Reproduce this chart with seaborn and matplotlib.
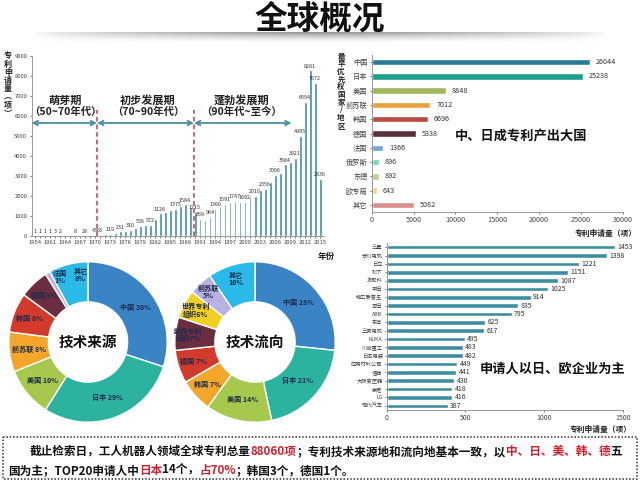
import matplotlib
matplotlib.use("Agg")
import matplotlib.pyplot as plt
import seaborn as sns
import numpy as np
import pandas as pd
from matplotlib.patches import Rectangle

# ---------------- data ----------------
years = ["1954"] + [str(y) for y in range(1959, 2016)]
counts = [1, 1, 1, 1, 3, 2, 0, 0, 8, 0,
          28, 0, 45, 63, 80, 119, 150, 231, 260, 310,
          420, 506, 560, 572, 870, 1126, 1180, 1300, 1375, 1500,
          1584, 1400, 1215, 869, 820, 964, 1360, 1450, 1591, 1680,
          1747, 1720, 1692, 1980, 2010, 2300, 2356, 2700, 3066, 3150,
          3584, 3700, 3921, 4995, 6694, 8281, 7672, 2836]
labeled_years = ["1954", "1959", "1960", "1961", "1962", "1963", "1966", "1968",
                 "1970", "1971", "1973", "1975", "1977", "1979", "1981", "1983",
                 "1986", "1988", "1990", "1991", "1993", "1994", "1996", "1998",
                 "2000", "2002", "2004", "2006", "2008", "2010", "2011", "2012",
                 "2013", "2014", "2015"]
periods = ["萌芽期", "初步发展期", "蓬勃发展期"]
period_ranges = ["（50~70年代）", "（70~90年代）", "（90年代~至今）"]

countries = ["中国", "日本", "美国", "前苏联", "韩国", "德国", "法国", "俄罗斯", "东德", "欧专局", "其它"]
country_counts = [26044, 25238, 8848, 7012, 6696, 5338, 1366, 896, 892, 643, 5082]
country_colors = ["#2b7a99", "#1f9e8c", "#a2b85c", "#e9a23b", "#b94a45", "#5e2e3a",
                  "#6fa8d6", "#7fd3bb", "#c9cc9e", "#efd39a", "#d98f8c"]

applicants = ["三星", "安川电机", "日立", "松下", "发那科", "丰田", "精工爱普生", "本田", "ABB", "东芝",
              "三菱电机", "KUKA", "川崎重工", "日本电装", "应用材料公司", "佳能", "大阪变压器", "索尼", "LG", "现代汽车"]
applicant_counts = [1453, 1398, 1221, 1151, 1087, 1025, 914, 835, 795, 625,
                    617, 495, 483, 482, 449, 441, 430, 418, 416, 387]

src_labels = ["中国 30%", "日本 29%", "美国 10%", "前苏联 8%", "韩国 8%", "德国 6%", "法国\n1%", "其它\n8%"]
src_values = [30, 29, 10, 8, 8, 6, 1, 8]
src_colors = ["#3a84c6", "#2bb3a0", "#a6c84c", "#f4a62a", "#d23b2b", "#6b2d40", "#b9b1e2", "#2bb9e8"]
src_label_r = [0.74, 0.74, 0.75, 0.75, 0.8, 0.8, 0.88, 0.84]
src_label_dang = [0, 0, 0, 0, 0, 0, -7, -8]

dst_labels = ["中国 28%", "日本 21%", "美国 14%", "韩国 7%", "德国 7%", "欧洲专利\n组织7%",
              "世界专利\n组织6%", "前苏联\n5%", "其它\n10%"]
dst_values = [28, 21, 14, 7, 7, 7, 6, 5, 10]
dst_colors = ["#3a84c6", "#2bb3a0", "#a6c84c", "#f4a62a", "#d23b2b", "#6b2d40",
              "#f3cf22", "#b9b1e2", "#2bb9e8"]
dst_label_r = [0.73, 0.72, 0.73, 0.8, 0.8, 0.84, 0.84, 0.85, 0.82]
dst_label_dang = [0, 0, 0, 0, 0, 0, 0, 0, 0]

# ---------------- style ----------------
sns.set_theme(style="ticks")
plt.rcParams["font.family"] = ["Noto Sans CJK SC", "DejaVu Sans"]
plt.rcParams["axes.unicode_minus"] = False

fig = plt.figure(figsize=(6.4, 4.83), dpi=100)
W, H = 640, 483


def px_ax(l, t, r, b):
    return fig.add_axes([l / W, 1 - b / H, (r - l) / W, (b - t) / H])


bg = fig.add_axes([0, 0, 1, 1], zorder=-5)
bg.set_xlim(0, W)
bg.set_ylim(H, 0)
bg.axis("off")

# title and grey band
xs = np.linspace(0, 1, 400)
ys = np.linspace(0, 1, 20)
ax_prof = np.clip(1 - np.abs(xs - 0.5) * 2.1, 0, 1) ** 0.6
ay_prof = (1 - ys) ** 1.5
band = np.zeros((20, 400, 4))
band[..., :3] = 0.45
band[..., 3] = np.outer(ay_prof, ax_prof) * 0.8
bg.imshow(band, extent=(20, 620, 43, 32), aspect="auto", zorder=0)
bg.text(320, 19, "全球概况", fontsize=23.5, fontweight="bold", ha="center", va="center",
        color="#111111", zorder=2)


def vertical_text(x, y_top, chars, step, size):
    for k, ch in enumerate(chars):
        bg.text(x, y_top + k * step, ch, ha="center", va="center", fontsize=size,
                fontweight="bold", color="#222222")


bar_c = "#3e8da0"
spine_c = "#9a9a9a"

# ---------------- panel 1: yearly bars ----------------
ax1 = px_ax(31.5, 56, 323.5, 236)
df1 = pd.DataFrame({"year": years, "count": counts})
sns.barplot(data=df1, x="year", y="count", color=bar_c, width=0.6, saturation=1, ax=ax1)
ax1.set_xlim(-0.7, len(years) - 0.3)
ax1.set_ylim(0, 9000)
ax1.set_yticks(range(0, 9001, 1000))
ax1.set_xticks(range(len(years)))
ax1.set_xticklabels([y if i % 3 == 0 else "" for i, y in enumerate(years)])
ax1.tick_params(axis="both", labelsize=4.2, length=1.5, width=0.5, colors="#444444", pad=1.5)
ax1.set_xlabel("")
ax1.set_ylabel("")
for s in ["top", "right"]:
    ax1.spines[s].set_visible(False)
for s in ["left", "bottom"]:
    ax1.spines[s].set_color(spine_c)
    ax1.spines[s].set_linewidth(0.7)
for yr in labeled_years:
    i = years.index(yr)
    ax1.text(i, counts[i] + 90, str(counts[i]), ha="center", va="bottom", fontsize=3.9, color="#333333")

b1 = years.index("1970") + 0.4
b2 = years.index("1990") - 0.2
b3 = years.index("2009") + 0.3
for b in (b1, b2):
    ax1.plot([b, b], [0, 6300], ls=(0, (3, 2)), color="#c23a4e", lw=1.1, zorder=5)
arrow_y = 5650
for x0, x1 in ((-0.7, b1), (b1, b2), (b2, b3)):
    ax1.annotate("", xy=(x0, arrow_y), xytext=(x1, arrow_y),
                 arrowprops=dict(arrowstyle="<->", color="#4d8fa0", lw=1.3, mutation_scale=8,
                                 shrinkA=0, shrinkB=0))
for name, rng, xc in zip(periods, period_ranges, (6, 22.6, 41.4)):
    ax1.text(xc, 6800, name, ha="center", va="center", fontsize=8, fontweight="bold", color="#222222")
    ax1.text(xc, 6200, rng, ha="center", va="center", fontsize=7.5, fontweight="bold", color="#222222")

vertical_text(8, 56, list("专利申请量") + ["︵", "项", "︶"], 8.2, 5.8)
bg.text(326, 256, "年份", ha="center", va="center", fontsize=6.2, fontweight="bold", color="#222222")

# ---------------- panel 2: countries ----------------
ax2 = px_ax(371.7, 55, 622.7, 212)
df2 = pd.DataFrame({"country": countries, "n": country_counts})
sns.barplot(data=df2, x="n", y="country", hue="country", palette=country_colors, legend=False,
            width=0.45, saturation=1, orient="h", ax=ax2)
ax2.set_xlim(0, 30000)
ax2.set_xticks(range(0, 30001, 5000))
ax2.tick_params(axis="both", labelsize=5.2, length=1.5, width=0.5, colors="#444444", pad=1.5)
ax2.set_xlabel("")
ax2.set_ylabel("")
for s in ["top", "right"]:
    ax2.spines[s].set_visible(False)
for s in ["left", "bottom"]:
    ax2.spines[s].set_color(spine_c)
    ax2.spines[s].set_linewidth(0.7)
for i, v in enumerate(country_counts):
    ax2.text(v + 700, i, str(v), ha="left", va="center", fontsize=5.2, color="#333333")
ax2.text(17900, 5.2, "中、日成专利产出大国", ha="center", va="center", fontsize=9.5,
         fontweight="bold", color="#111111")
vertical_text(341, 56, list("最早优先权国家") + ["/"] + list("地区"), 7.7, 5.4)
bg.text(606, 233, "专利申请量（项）", ha="center", va="center", fontsize=5.6, fontweight="bold",
        color="#222222")

# ---------------- panel 3: applicants ----------------
ax3 = px_ax(386.7, 243, 622.7, 410)
df3 = pd.DataFrame({"app": applicants, "n": applicant_counts})
sns.barplot(data=df3, x="n", y="app", color=bar_c, width=0.55, saturation=1, orient="h", ax=ax3)
ax3.set_xlim(0, 1500)
ax3.set_xticks([0, 500, 1000, 1500])
ax3.tick_params(axis="x", labelsize=5.0, length=1.5, width=0.5, colors="#444444", pad=1.5)
ax3.tick_params(axis="y", labelsize=3.8, length=1.5, width=0.5, colors="#444444", pad=1.5)
ax3.set_xlabel("")
ax3.set_ylabel("")
for s in ["top", "right"]:
    ax3.spines[s].set_visible(False)
for s in ["left", "bottom"]:
    ax3.spines[s].set_color(spine_c)
    ax3.spines[s].set_linewidth(0.7)
for i, v in enumerate(applicant_counts):
    ax3.text(v + 15, i, str(v), ha="left", va="center", fontsize=5.0, color="#333333")
ax3.text(1057, 14.5, "申请人以日、欧企业为主", ha="center", va="center", fontsize=9.5,
         fontweight="bold", color="#111111")
bg.text(601, 429, "专利申请量（项）", ha="center", va="center", fontsize=5.6, fontweight="bold",
        color="#222222")


# ---------------- donuts ----------------
def donut(ax, vals, cols, labels, radii, dangs, title):
    wedges, _ = ax.pie(vals, colors=cols, startangle=90, counterclock=False, radius=1,
                       wedgeprops=dict(width=0.5, edgecolor="white", linewidth=1.0))
    for w, lab, r, da in zip(wedges, labels, radii, dangs):
        th = np.deg2rad((w.theta1 + w.theta2) / 2 + da)
        ax.text(r * np.cos(th), r * np.sin(th), lab, ha="center", va="center",
                fontsize=5.1, fontweight="bold", color="#1c2b4a", linespacing=1.05)
    ax.text(0, 0, title, ha="center", va="center", fontsize=10.5, fontweight="bold", color="#111111")
    ax.set_xlim(-1.01, 1.01)
    ax.set_ylim(-1.01, 1.01)
    ax.set_aspect("auto")
    ax.axis("off")


ax4 = px_ax(8, 261, 168, 423)
donut(ax4, src_values, src_colors, src_labels, src_label_r, src_label_dang, "技术来源")
ax5 = px_ax(174, 261, 336, 423)
donut(ax5, dst_values, dst_colors, dst_labels, dst_label_r, dst_label_dang, "技术流向")

# ---------------- bottom text box ----------------
bg.add_patch(Rectangle((3, 437), 634, 42, fill=False, ls=(0, (1, 1.2)), lw=1.1, ec="#333333"))
red = "#d0202e"
blk = "#111111"
line1 = [("截止检索日，工人机器人领域全球专利总量", blk), ("88060项", red),
         ("；专利技术来源地和流向地基本一致，以", blk), ("中、日、美、韩、德", red), ("五", blk)]
line2 = [("国为主；TOP20申请人中", blk), ("日本", red), ("14个，", blk), ("占70%", red),
         ("；韩国3个，德国1个。", blk)]


def rich(x, y, parts, size):
    t = bg.text(x, y, parts[0][0], color=parts[0][1], fontsize=size, fontweight="bold",
                ha="left", va="bottom")
    for s, c in parts[1:]:
        t = bg.annotate(s, xycoords=t, xy=(1, 0), va="bottom", ha="left", color=c,
                        fontsize=size, fontweight="bold")


rich(30, 458, line1, 8.4)
rich(8, 477, line2, 8.4)

fig.savefig("out.png", dpi=100)
